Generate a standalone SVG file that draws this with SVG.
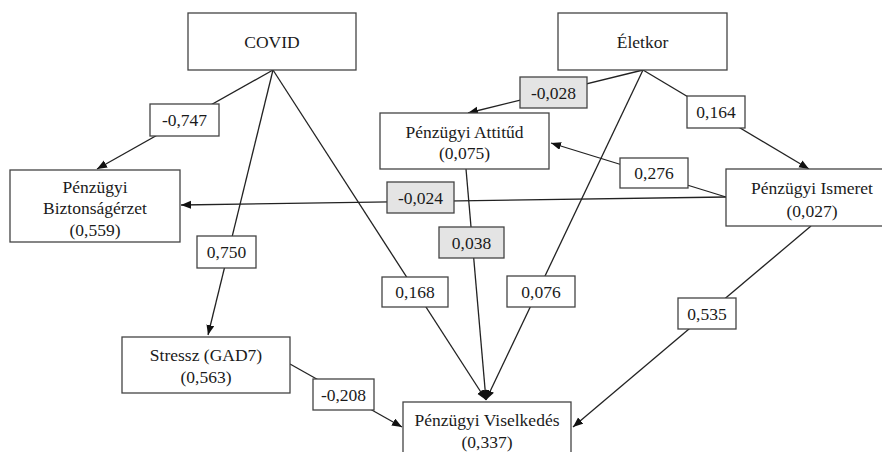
<svg xmlns="http://www.w3.org/2000/svg" width="882" height="452" viewBox="0 0 882 452">
<style>
text{font-family:'Liberation Serif','DejaVu Serif','Times New Roman',Times,serif;font-size:17.5px;fill:#1a1a1a;text-anchor:middle}
.node rect{fill:#fff;stroke:#444;stroke-width:1.3}
.edge{stroke:#222;stroke-width:1.3;fill:none;marker-end:url(#ah)}
.lbl{fill:#fff;stroke:#444;stroke-width:1.3}
.lbl.g{fill:#e4e4e4}
</style>
<defs>
<marker id="ah" markerUnits="userSpaceOnUse" markerWidth="12" markerHeight="10" refX="10" refY="4" orient="auto">
<path d="M0,0 L10,4 L0,8 Z" fill="#111"/>
</marker>
</defs>
<rect width="882" height="452" fill="#fff"/>
<g id="connectors">
<line class="edge" x1="273" y1="70" x2="97" y2="169"/>
<line class="edge" x1="273" y1="70" x2="208" y2="335"/>
<line class="edge" x1="273" y1="70" x2="486" y2="400"/>
<line class="edge" x1="643" y1="70" x2="468" y2="113"/>
<line class="edge" x1="643" y1="70" x2="486" y2="400"/>
<line class="edge" x1="643" y1="70" x2="809" y2="169"/>
<line class="edge" x1="726" y1="197" x2="181" y2="205"/>
<line class="edge" x1="726" y1="197" x2="551" y2="143"/>
<line class="edge" x1="811" y1="226" x2="573" y2="427"/>
<line class="edge" x1="466" y1="169" x2="486" y2="400"/>
<line class="edge" x1="290" y1="364" x2="402" y2="427"/>
<g id="labels" font-family="Liberation Serif, serif">
<rect class="lbl" x="150" y="104" width="69" height="32"/><text x="184.5" y="126">-0,747</text>
<rect class="lbl g" x="387" y="182" width="67" height="31"/><text x="420.5" y="203.5">-0,024</text>
<rect class="lbl" x="197" y="236" width="59" height="32"/><text x="226.5" y="258">0,750</text>
<rect class="lbl" x="382" y="277" width="66" height="30"/><text x="415" y="298">0,168</text>
<rect class="lbl" x="313" y="379" width="61" height="31"/><text x="343.5" y="400.5">-0,208</text>
<rect class="lbl g" x="520" y="77" width="67" height="31"/><text x="553.5" y="98.5">-0,028</text>
<rect class="lbl" x="687" y="96" width="58" height="32"/><text x="716" y="118">0,164</text>
<rect class="lbl" x="620" y="158" width="68" height="30"/><text x="654" y="179">0,276</text>
<rect class="lbl g" x="439" y="227" width="65" height="31"/><text x="471.5" y="248.5">0,038</text>
<rect class="lbl" x="507" y="276" width="68" height="31"/><text x="541" y="297.5">0,076</text>
<rect class="lbl" x="678" y="298" width="58" height="31"/><text x="707" y="319.5">0,535</text>
</g>
</g>
<g id="covid" class="node"><rect x="188" y="13" width="168" height="57"/><text x="272" y="48">COVID</text></g>
<g id="eletkor" class="node"><rect x="558" y="13" width="169" height="57"/><text x="642.5" y="48">Életkor</text></g>
<g id="attitud" class="node"><rect x="380" y="113" width="169" height="56"/><text x="464.5" y="138">Pénzügyi Attitűd</text><text x="464.5" y="159">(0,075)</text></g>
<g id="biztonsag" class="node"><rect x="10" y="170" width="170" height="72"/><text x="95" y="193">Pénzügyi</text><text x="95" y="214">Biztonságérzet</text><text x="95" y="236">(0,559)</text></g>
<g id="ismeret" class="node"><rect x="726" y="169" width="172" height="57"/><text x="812" y="194">Pénzügyi Ismeret</text><text x="812" y="217">(0,027)</text></g>
<g id="stressz" class="node"><rect x="122" y="337" width="168" height="56"/><text x="206" y="361">Stressz (GAD7)</text><text x="206" y="383">(0,563)</text></g>
<g id="viselkedes" class="node"><rect x="403" y="402" width="168" height="60"/><text x="487" y="426">Pénzügyi Viselkedés</text><text x="487" y="448">(0,337)</text></g>
</svg>
